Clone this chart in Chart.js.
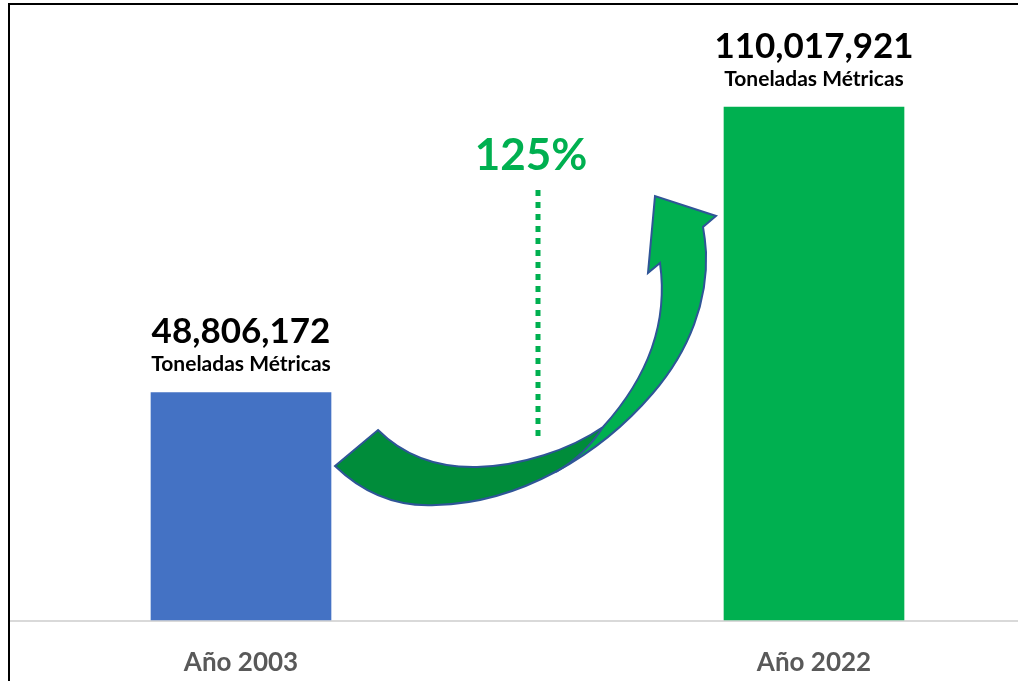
<!DOCTYPE html>
<html lang="es">
<head>
<meta charset="utf-8">
<title>Toneladas Métricas 2003 - 2022</title>
<script src="https://cdn.jsdelivr.net/npm/chart.js@4.4.1/dist/chart.umd.min.js"></script>
<style>
  html, body { margin: 0; padding: 0; background: #ffffff; }
  #wrap { width: 1018px; height: 681px; position: relative; }
</style>
</head>
<body>
<div id="wrap"><canvas id="myChart"></canvas></div>
<script>
'use strict';

// DATA

let years = ['Año 2003', 'Año 2022'];
let tonnes = [48806172, 110017921];
let barColors = ['#4472C4', '#00B050'];
let unitLabel = 'Toneladas Métricas';
let growthLabel = '125%';
let yMax = 133000000;

let fontName = 'Lato, "Open Sans", sans-serif';

// frame, baseline and white background
const framePlugin = {
  id: 'frame',
  beforeDraw(chart) {
    let ctx = chart.ctx;
    let base = chart.scales.y.getPixelForValue(0);
    ctx.save();
    ctx.fillStyle = '#ffffff';
    ctx.fillRect(0, 0, chart.width, chart.height);
    ctx.strokeStyle = '#000000';
    ctx.lineWidth = 2;
    ctx.beginPath();
    ctx.moveTo(9, chart.height);
    ctx.lineTo(9, 4);
    ctx.lineTo(chart.width, 4);
    ctx.stroke();
    ctx.strokeStyle = '#D9D9D9';
    ctx.beginPath();
    ctx.moveTo(10, base + 1);
    ctx.lineTo(chart.width, base + 1);
    ctx.stroke();
    ctx.restore();
  }
};

// value + unit above each bar
const labelPlugin = {
  id: 'barLabels',
  afterDatasetsDraw(chart) {
    let ctx = chart.ctx;
    let bars = chart.getDatasetMeta(0).data;
    ctx.save();
    ctx.textAlign = 'center';
    ctx.textBaseline = 'alphabetic';
    ctx.fillStyle = '#000000';
    for (let i = 0; i < bars.length; i++) {
      let bar = bars[i];
      ctx.font = 'bold 35px ' + fontName;
      ctx.fillText(tonnes[i].toLocaleString('en-US'), bar.x, bar.y - 49);
      ctx.font = 'bold 21px ' + fontName;
      ctx.fillText(unitLabel, bar.x, bar.y - 21);
    }
    ctx.restore();
  }
};

// curved arrow, dotted line and growth percentage
const arrowPlugin = {
  id: 'growthArrow',
  afterDatasetsDraw(chart) {
    let ctx = chart.ctx;
    ctx.save();

    // dotted line
    ctx.strokeStyle = '#00B050';
    ctx.lineWidth = 5;
    ctx.setLineDash([6, 6]);
    ctx.beginPath();
    ctx.moveTo(538, 190);
    ctx.lineTo(538, 440);
    ctx.stroke();
    ctx.setLineDash([]);

    // percentage
    ctx.fillStyle = '#00B050';
    ctx.font = 'bold 44px ' + fontName;
    ctx.textAlign = 'center';
    ctx.fillText(growthLabel, 531, 170);

    // arrow outline path
    let shape = new Path2D();
    shape.moveTo(335, 466);
    shape.bezierCurveTo(365, 495, 400, 507, 436, 505);
    shape.bezierCurveTo(520, 503, 600, 455, 653, 393);
    shape.bezierCurveTo(690, 350, 708, 300, 706, 252);
    shape.quadraticCurveTo(705, 238, 703, 227);
    shape.lineTo(716, 216);
    shape.lineTo(655, 196);
    shape.lineTo(648, 273);
    shape.lineTo(660, 263);
    shape.bezierCurveTo(668, 320, 650, 375, 603, 427);
    shape.bezierCurveTo(570, 450, 520, 466, 477, 467);
    shape.bezierCurveTo(430, 468, 400, 452, 378, 430);
    shape.closePath();

    ctx.fillStyle = '#00B050';
    ctx.fill(shape);

    // darker back part of the ribbon
    ctx.save();
    ctx.clip(shape);
    ctx.fillStyle = '#008C3A';
    ctx.beginPath();
    ctx.moveTo(320, 400);
    ctx.lineTo(603, 422);
    ctx.lineTo(603, 427);
    ctx.quadraticCurveTo(585, 455, 556, 472);
    ctx.lineTo(556, 530);
    ctx.lineTo(320, 530);
    ctx.closePath();
    ctx.fill();
    ctx.restore();

    ctx.strokeStyle = '#2F5597';
    ctx.lineWidth = 2;
    ctx.lineJoin = 'miter';
    ctx.stroke(shape);
    ctx.beginPath();
    ctx.moveTo(603, 427);
    ctx.quadraticCurveTo(585, 455, 556, 472);
    ctx.stroke();

    ctx.restore();
  }
};

const data = {
  labels: years,
  datasets: [{
    data: tonnes,
    backgroundColor: barColors,
    borderWidth: 0,
    barThickness: 180,
    clip: false
  }]
};

const config = {
  type: 'bar',
  data: data,
  options: {
    responsive: true,
    maintainAspectRatio: false,
    animation: false,
    layout: {
      padding: { left: 241, right: 204, top: 0, bottom: 0 }
    },
    plugins: {
      legend: { display: false },
      tooltip: { enabled: false }
    },
    scales: {
      x: {
        offset: false,
        grid: { display: false },
        border: { display: false },
        ticks: {
          color: '#595959',
          padding: 19,
          maxRotation: 0,
          font: { family: fontName, size: 26, weight: 'bold' }
        },
        afterFit(scale) {
          scale.height = 61;
        }
      },
      y: {
        display: false,
        min: 0,
        max: yMax
      }
    }
  },
  plugins: [framePlugin, labelPlugin, arrowPlugin]
};

let canvas = document.getElementById('myChart').getContext('2d');
new Chart(canvas, config);
</script>
</body>
</html>
